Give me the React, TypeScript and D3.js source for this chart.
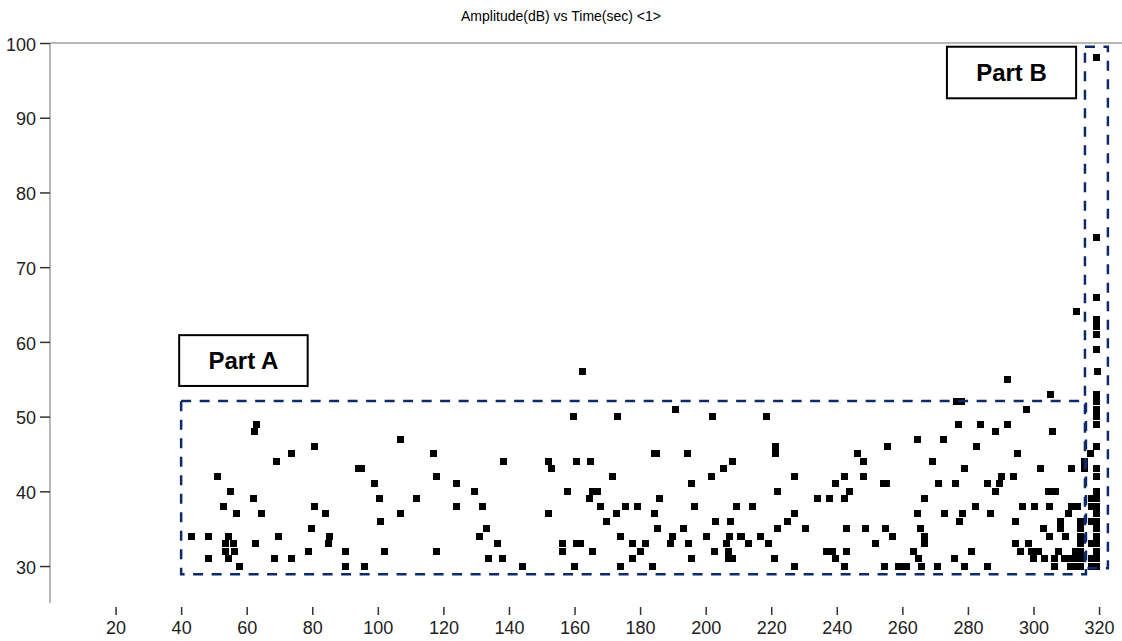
import React, { useEffect, useRef } from "react";
import * as d3 from "d3";

// hits: [time (sec), amplitude (dB)]
const hitsEarly: [number, number][] = [
  [43.2, 34], [48.4, 34], [48.4, 31], [51.2, 42], [53, 38], [53.4, 33], [53.4, 32],
  [54.5, 34], [54.5, 31], [55, 40], [55.9, 33], [56.4, 32], [56.8, 37], [57.7, 30],
  [62, 39], [62.5, 48], [63, 49], [62.8, 33], [64.4, 37], [68.5, 31], [69, 44],
  [69.6, 34], [73.7, 45], [73.7, 31], [78.9, 32], [79.8, 35], [80.7, 46], [80.7, 38],
  [84, 37], [85, 33], [85.4, 34], [90.2, 32], [90.2, 30], [94, 43], [95, 43],
  [95.8, 30], [99, 41], [100.4, 39], [100.9, 36], [101.9, 32], [107, 47], [107, 37],
  [111.7, 39], [117, 45], [117.8, 42], [117.8, 32],
];

const hitsMiddle: [number, number][] = [
  [124, 41], [124, 38], [129.4, 40], [131, 34], [131.9, 38], [133.1, 35], [133.7, 31],
  [136.6, 33], [137.9, 31], [138.4, 44], [144.2, 30], [152, 44], [152.9, 43], [152, 37],
  [156.3, 33], [156.3, 32], [158, 40], [159.6, 50], [159.9, 30], [160.5, 44], [160.5, 33],
  [161.9, 33], [162.4, 56], [164.6, 39], [165, 44], [165.6, 40], [167, 40], [165.6, 32],
  [168, 38], [169.8, 36], [171.6, 42], [172.7, 37], [173, 50], [173.9, 30], [174, 34],
  [175.5, 38], [177.7, 33], [177.7, 31], [179.2, 38], [180, 32], [181.5, 33], [183.8, 30],
  [184.3, 45], [185, 45], [184.3, 37], [185.3, 35], [185.8, 39], [189.4, 33], [190, 34],
  [190.9, 51], [193.3, 35], [194.6, 45], [194.7, 33], [195.6, 41], [195.6, 31], [196.5, 38],
  [200.2, 34], [201.7, 42], [202, 50], [202.7, 32], [203, 36], [205.4, 43], [206.3, 33],
  [207, 32], [207, 31], [207.3, 34], [207.7, 36], [208.3, 44], [208.3, 31], [209.3, 38],
  [210.5, 34],
];

const hitsLate: [number, number][] = [
  [211, 34], [213, 33], [214.4, 38], [216.7, 34], [218.6, 50], [219.1, 33], [220.9, 31],
  [221.4, 46], [221.4, 45], [221.9, 40], [222, 35], [225.1, 36], [227, 42], [227.1, 37],
  [227.1, 30], [230.4, 35], [234.1, 39], [236.8, 32], [237.7, 39], [238.6, 32], [239.6, 41],
  [239.6, 31], [242.5, 42], [242.5, 39], [242.5, 30], [243, 35], [243, 32], [243.8, 40],
  [246.2, 45], [248.1, 44], [248.1, 42], [248.9, 35], [251.9, 33], [254.1, 41], [255.2, 41],
  [254.6, 30], [255, 35], [255.6, 46], [257, 34], [258.8, 30], [260, 30], [261.3, 30],
  [263.5, 32], [264.6, 47], [264.6, 37], [264.9, 31], [265.4, 35], [265.9, 30], [266.9, 39],
  [266.9, 34], [266.9, 33], [269.2, 44], [270.7, 30], [271.1, 41], [272.5, 47], [272.9, 37],
  [275.8, 31], [276.3, 41], [276.5, 52], [278, 52], [277, 49], [277.5, 36], [278.2, 37],
  [279, 43], [279, 30], [281, 32], [282.3, 38], [282.7, 46], [283.8, 49], [286, 41],
  [286, 30], [287, 37], [288.4, 48], [288.4, 40], [289.6, 41], [290.3, 42], [292.2, 55],
  [292.2, 49], [294, 42], [294.4, 33], [294.6, 36], [295, 45], [295.9, 32], [296.8, 38],
  [297.8, 51], [298.4, 33], [299.5, 32], [300, 31], [300.2, 38], [301.5, 32], [302, 43],
  [303, 35], [303.5, 31], [304.5, 40], [304.9, 38], [305, 34], [305.3, 53], [305.8, 48],
  [306.3, 31], [306.3, 30], [306.6, 40], [307.6, 32], [308.1, 36], [308.1, 35], [309.8, 34],
  [309.6, 31], [310.6, 37], [311.2, 30], [311.2, 31], [311.5, 38], [311.7, 43], [312.7, 32],
  [312.7, 31], [312.7, 30], [313.2, 64], [313.5, 38], [314.2, 36], [314.2, 35], [314.2, 34],
  [314.2, 33], [314.2, 32], [314.2, 31], [314.2, 30], [315.7, 44], [315.7, 43],
];

const hitsPartB: [number, number][] = [
  [319.3, 98], [319.3, 74], [319.3, 66], [319.3, 63], [319.3, 62], [319.3, 61], [319.3, 59],
  [319.5, 56], [319.3, 53], [319.3, 52], [319.3, 51], [319.3, 50], [319.3, 49], [319.3, 46],
  [317.3, 45], [319.3, 43], [319.3, 42], [319.3, 40], [319.3, 39], [319.3, 38], [319.3, 37],
  [319.3, 36], [319.3, 35], [319.3, 34], [319.3, 33], [319.3, 32], [319.3, 31], [319.3, 30],
  [317.8, 39], [317.8, 38], [317.8, 36], [317.8, 33], [317.8, 31], [317.8, 30],
];

const yTicks = [30, 40, 50, 60, 70, 80, 90, 100];
const xTicks = [20, 40, 60, 80, 100, 120, 140, 160, 180, 200, 220, 240, 260, 280, 300, 320];

// dashed regions [x0, x1, y0, y1] in data units
const regionA = [40, 316, 28.9, 52.1];
const regionB = [315.7, 322.7, 29.7, 99.5];
// label boxes [x0, x1, yTop, yBottom]
const labelA = { text: "Part A", box: [39.4, 78.6, 60.9, 54.1] };
const labelB = { text: "Part B", box: [273.6, 313, 99.5, 92.6] };

const W = 1122;
const H = 641;

const App = () => {
  const svgRef = useRef<SVGSVGElement>(null);

  useEffect(() => {
    const svg = d3.select(svgRef.current);
    svg.selectAll("*").remove();

    const x = d3.scaleLinear().domain([0, 327]).range([50, 1122]);
    const y = d3.scaleLinear().domain([25, 100]).range([603.4, 43]);
    const font = "'Liberation Sans Narrow', 'Arial Narrow', 'Liberation Sans', Arial, sans-serif";

    // title
    svg
      .append("text")
      .attr("x", 561)
      .attr("y", 21)
      .attr("text-anchor", "middle")
      .attr("font-family", font)
      .attr("font-size", 14)
      .attr("fill", "#000")
      .text("Amplitude(dB) vs Time(sec) <1>");

    // frame lines
    svg.append("line").attr("x1", 50).attr("x2", W).attr("y1", 43).attr("y2", 43)
      .attr("stroke", "#a0a0a0").attr("stroke-width", 1.5);
    svg.append("line").attr("x1", 50).attr("x2", 50).attr("y1", 43).attr("y2", 603)
      .attr("stroke", "#a0a0a0").attr("stroke-width", 1.5);

    // y axis
    const yAxis = d3.axisLeft(y).tickValues(yTicks).tickSize(10).tickPadding(4);
    const gy = svg.append("g").attr("transform", "translate(50,0)").call(yAxis);
    gy.select(".domain").remove();
    gy.selectAll("line").attr("stroke", "#333").attr("stroke-width", 1.5);
    gy.selectAll("text").attr("font-family", font).attr("font-size", 18).attr("fill", "#222").attr("dy", "0.4em");

    // x axis (ticks only)
    const xAxis = d3.axisBottom(x).tickValues(xTicks).tickSize(8).tickPadding(6);
    const gx = svg.append("g").attr("transform", "translate(0,607)").call(xAxis);
    gx.select(".domain").remove();
    gx.selectAll("line").attr("stroke", "#333").attr("stroke-width", 1.5);
    gx.selectAll("text").attr("font-family", font).attr("font-size", 18).attr("fill", "#222");

    // hits
    const all = [...hitsEarly, ...hitsMiddle, ...hitsLate, ...hitsPartB];
    const s = 7;
    svg
      .append("g")
      .selectAll("rect")
      .data(all)
      .join("rect")
      .attr("x", (d) => Math.round(x(d[0]) - s / 2))
      .attr("y", (d) => Math.round(y(d[1]) - s / 2))
      .attr("width", s)
      .attr("height", s)
      .attr("fill", "#000");

    // dashed regions
    [regionA, regionB].forEach((r) => {
      svg
        .append("rect")
        .attr("x", x(r[0]))
        .attr("y", y(r[3]))
        .attr("width", x(r[1]) - x(r[0]))
        .attr("height", y(r[2]) - y(r[3]))
        .attr("fill", "none")
        .attr("stroke", "#0f2a68")
        .attr("stroke-width", 2.5)
        .attr("stroke-dasharray", "10,8.5");
    });

    // labels
    [labelA, labelB].forEach((l) => {
      const [x0, x1, yt, yb] = l.box;
      svg
        .append("rect")
        .attr("x", x(x0))
        .attr("y", y(yt))
        .attr("width", x(x1) - x(x0))
        .attr("height", y(yb) - y(yt))
        .attr("fill", "#fff")
        .attr("stroke", "#000")
        .attr("stroke-width", 2);
      svg
        .append("text")
        .attr("x", (x(x0) + x(x1)) / 2)
        .attr("y", (y(yt) + y(yb)) / 2 + 8)
        .attr("text-anchor", "middle")
        .attr("font-family", "'Liberation Sans', Arial, sans-serif")
        .attr("font-weight", "bold")
        .attr("font-size", 24)
        .attr("fill", "#000")
        .text(l.text);
    });
  }, []);

  return (
    <svg
      ref={svgRef}
      width={W}
      height={H}
      style={{ position: "absolute", left: 0, top: 0, background: "#fff" }}
    />
  );
};

export default App;
